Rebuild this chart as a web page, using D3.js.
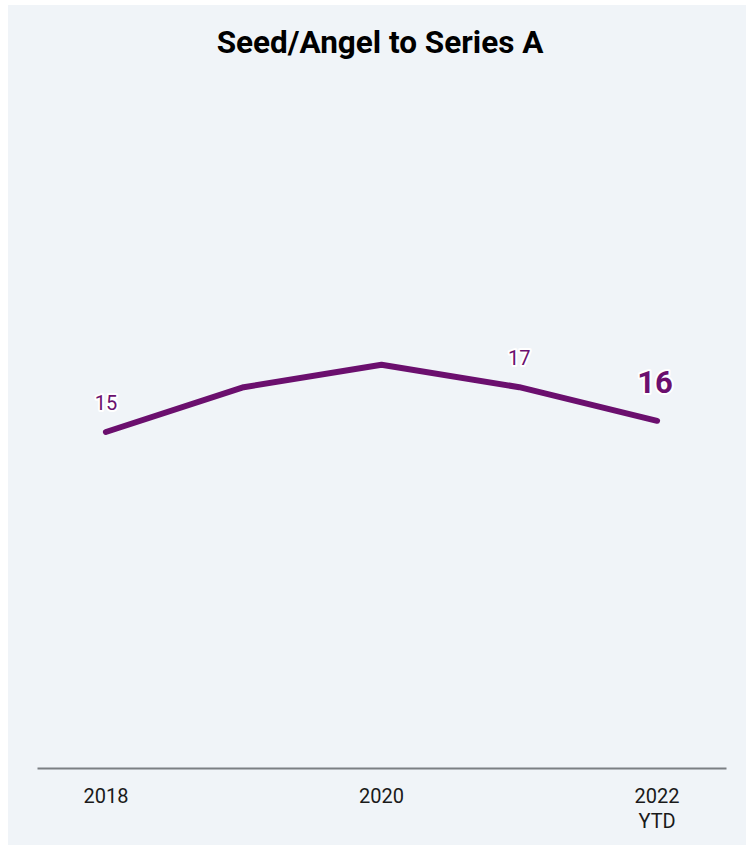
<!DOCTYPE html>
<html>
<head>
<meta charset="utf-8">
<script src="https://cdn.jsdelivr.net/npm/d3@7"></script>
<style>
  html, body { margin: 0; padding: 0; background: #ffffff; }
  svg { display: block; }
  text { font-family: Roboto, "Noto Sans", sans-serif; }
</style>
</head>
<body>
<svg id="chart" width="746" height="845"></svg>
<script>
const title = "Seed/Angel to Series A";
const categories = ["2018", "2019", "2020", "2021", "2022 YTD"];
const values = [15, 17, 18, 17, 15.5];
const tickLabels = [["2018"], [], ["2020"], [], ["2022", "YTD"]];
const pointLabels = [
  { index: 0, text: "15", big: false },
  { index: 3, text: "17", big: false },
  { index: 4, text: "16", big: true }
];

const svg = d3.select("#chart");
const W = 746, H = 845;
const purple = "#6b0f6e";

svg.append("rect").attr("x", 8).attr("y", 5).attr("width", W - 8).attr("height", H - 5)
  .attr("fill", "#f0f4f8");

svg.append("text").attr("x", 380).attr("y", 53).attr("text-anchor", "middle")
  .attr("font-size", 31.5).attr("font-weight", 700).attr("fill", "#000")
  .text(title);

const x = d3.scalePoint().domain(categories).range([37, 726]).padding(0.5);
const y = d3.scaleLinear().domain([0, 30]).range([768, 96]);

// axis line
const axis = d3.axisBottom(x).tickSize(0).tickFormat("");
const gAxis = svg.append("g").attr("transform", "translate(0,768)").call(axis);
gAxis.select(".domain").attr("stroke", "#7b7f83").attr("stroke-width", 2);

// tick labels
categories.forEach((c, i) => {
  const lines = tickLabels[i];
  lines.forEach((ln, j) => {
    svg.append("text").attr("x", x(c)).attr("y", 803 + j * 25)
      .attr("text-anchor", "middle").attr("font-size", 20).attr("fill", "#1a1a1a")
      .text(ln);
  });
});

const line = d3.line().x((d, i) => x(categories[i])).y(d => y(d));
svg.append("path").datum(values).attr("d", line)
  .attr("fill", "none").attr("stroke", purple).attr("stroke-width", 6)
  .attr("stroke-linecap", "round").attr("stroke-linejoin", "round");

pointLabels.forEach(p => {
  const cx = x(categories[p.index]);
  const cy = y(values[p.index]);
  svg.append("text").attr("x", cx - (p.big ? 2 : 0)).attr("y", cy - (p.big ? 28 : 22))
    .attr("text-anchor", "middle")
    .attr("font-size", p.big ? 31 : 20).attr("font-weight", p.big ? 700 : 400)
    .attr("fill", purple)
    .attr("stroke", "#ffffff").attr("stroke-width", 4).attr("paint-order", "stroke")
    .attr("stroke-linejoin", "round")
    .text(p.text);
});
</script>
</body>
</html>
